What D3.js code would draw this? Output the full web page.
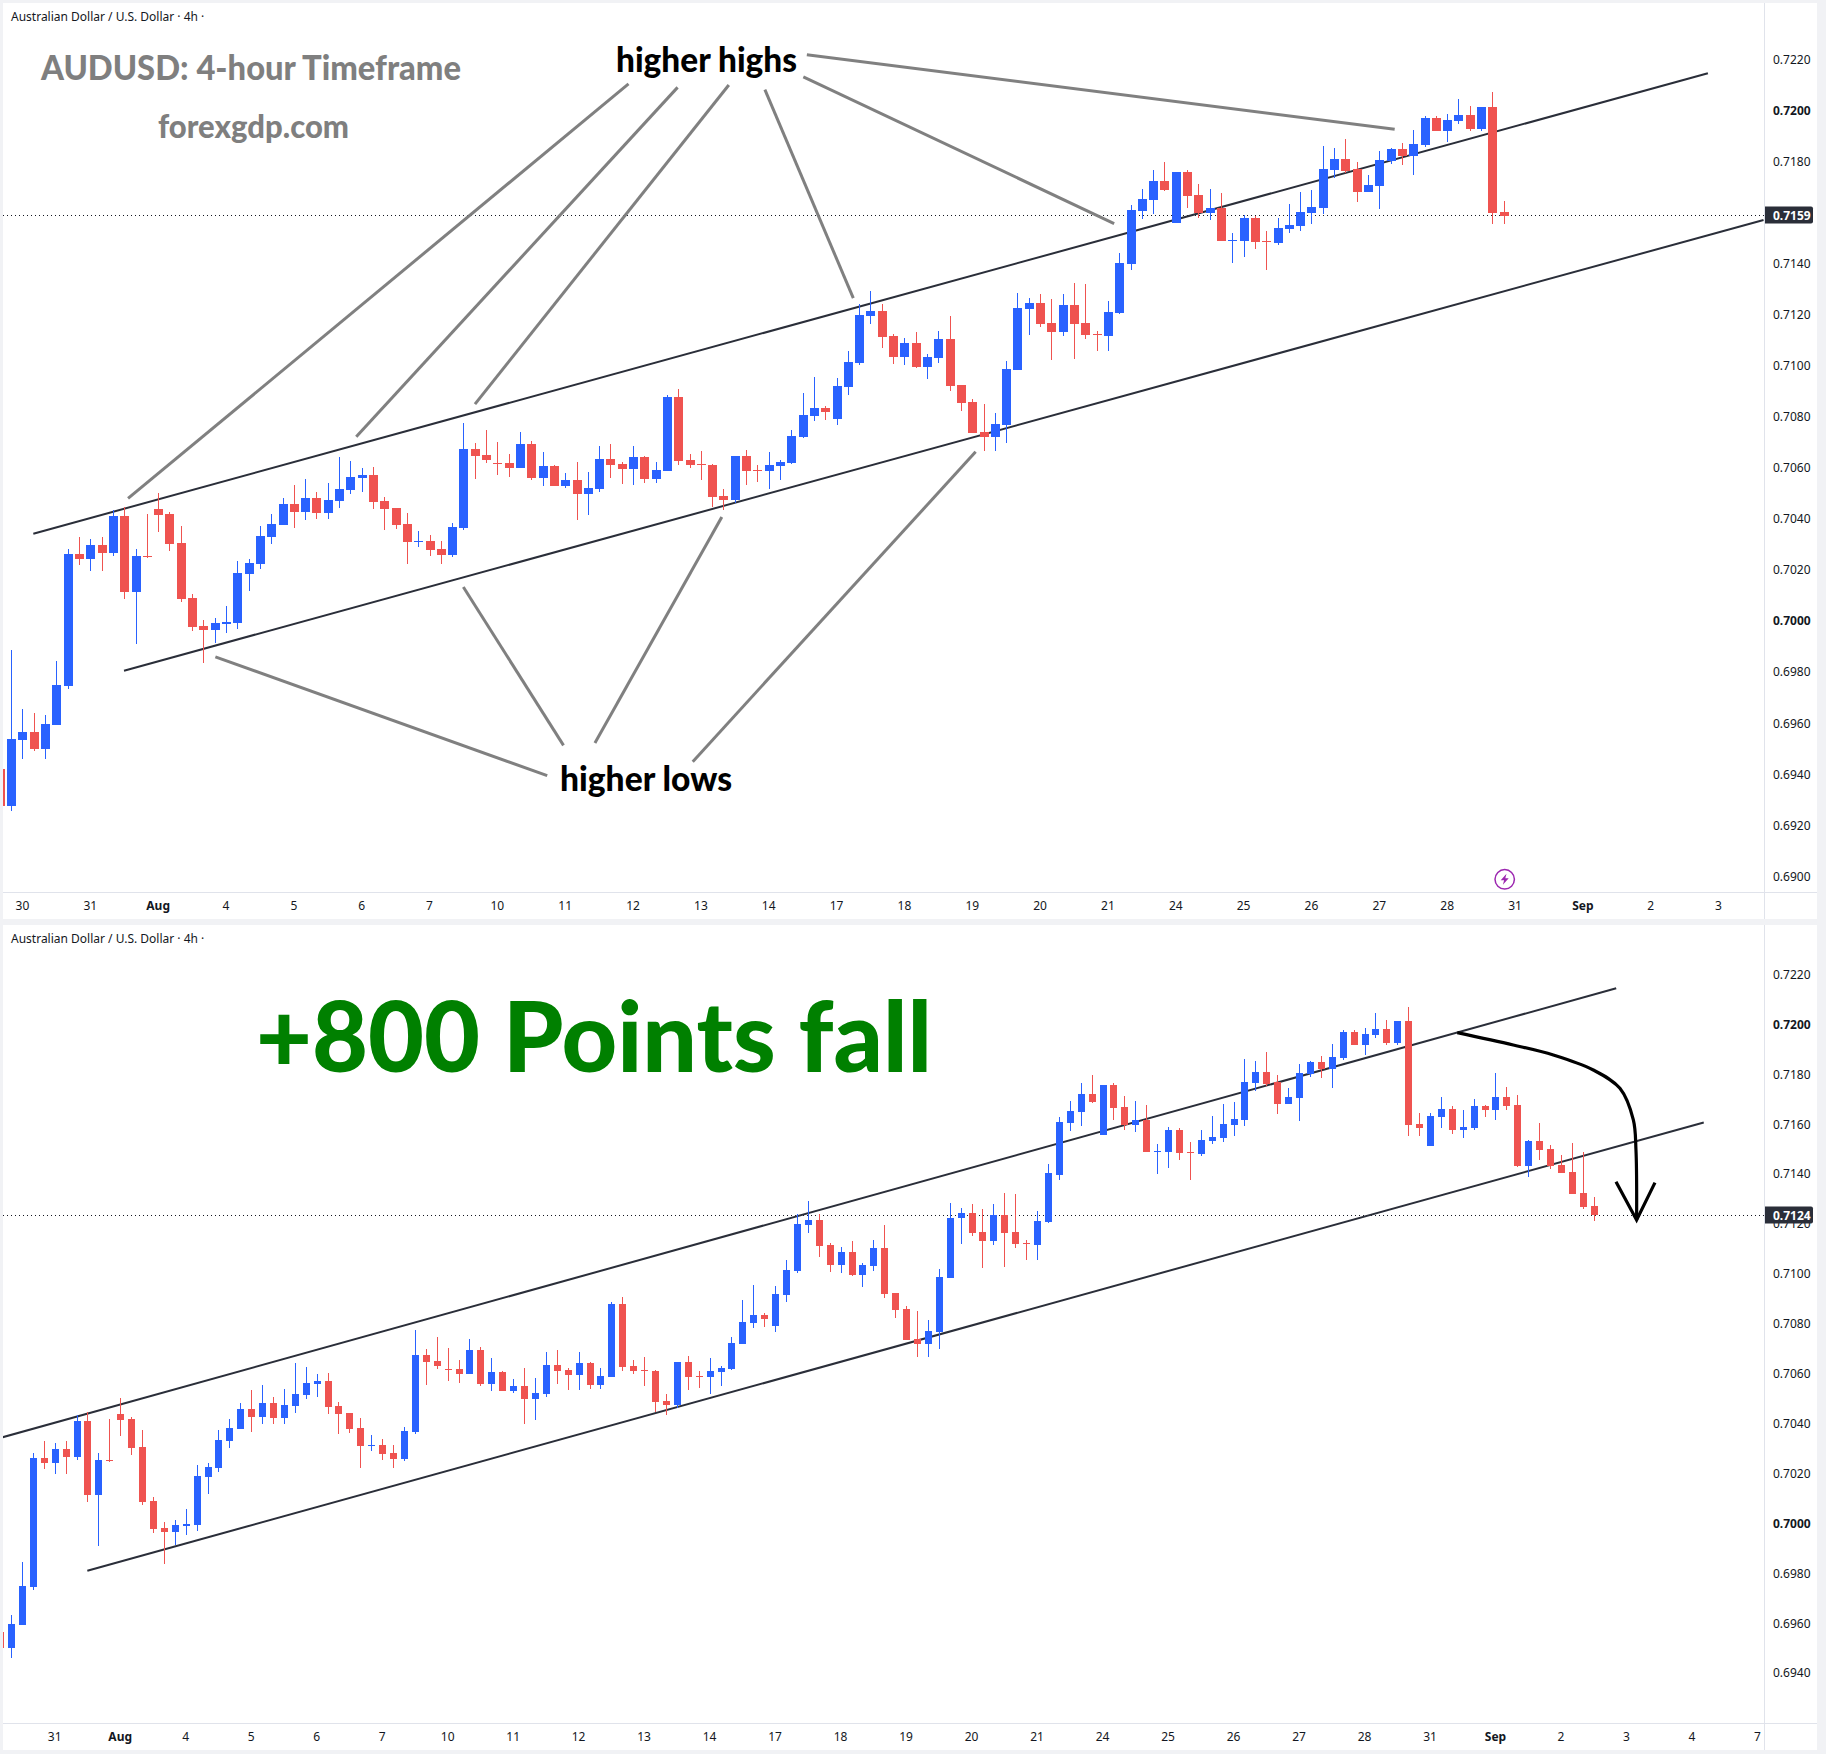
<!DOCTYPE html>
<html><head><meta charset="utf-8">
<script src="https://cdn.jsdelivr.net/npm/d3@7"></script>
<style>
html,body{margin:0;padding:0;background:#f1f2f5}
svg{display:block}
text{font-family:"Noto Sans",sans-serif}
text.big{font-family:Lato,"Noto Sans",sans-serif}
</style></head><body>
<svg id="c" width="1826" height="1754"></svg>
<script>
const symbolLabel = "Australian Dollar / U.S. Dollar · 4h ·";
const opens = [0.69423,0.69278,0.69536,0.69567,0.69501,0.69595,0.69748,0.70264,0.70245,0.70300,0.70268,0.70413,0.70116,0.70257,0.70441,0.70421,0.70308,0.70092,0.69983,0.69967,0.69990,0.69994,0.70186,0.70225,0.70331,0.70378,0.70460,0.70429,0.70484,0.70425,0.70472,0.70515,0.70562,0.70574,0.70472,0.70444,0.70382,0.70311,0.70315,0.70284,0.70260,0.70366,0.70675,0.70652,0.70621,0.70621,0.70601,0.70695,0.70562,0.70609,0.70531,0.70554,0.70499,0.70519,0.70636,0.70617,0.70597,0.70644,0.70558,0.70589,0.70879,0.70632,0.70617,0.70613,0.70491,0.70476,0.70648,0.70593,0.70589,0.70609,0.70621,0.70722,0.70805,0.70836,0.70793,0.70918,0.71012,0.71196,0.71216,0.71118,0.71036,0.71090,0.70996,0.71032,0.71106,0.70926,0.70859,0.70742,0.70722,0.70769,0.70985,0.71224,0.71247,0.71169,0.71134,0.71239,0.71169,0.71126,0.71118,0.71208,0.71399,0.71607,0.71650,0.71724,0.71560,0.71760,0.71670,0.71599,0.71619,0.71489,0.71489,0.71580,0.71489,0.71482,0.71536,0.71548,0.71599,0.71619,0.71768,0.71811,0.71771,0.71681,0.71705,0.71803,0.71850,0.71822,0.71865,0.71971,0.71920,0.71959,0.71983,0.71928,0.72014,0.71603,0.71515,0.71631,0.71663,0.71579,0.71587,0.71675,0.71659,0.71711,0.71679,0.71435,0.71535,0.71503,0.71439,0.71411,0.71326,0.71274];
const highs = [0.69423,0.69889,0.69658,0.69642,0.69634,0.69845,0.70284,0.70331,0.70323,0.70331,0.70437,0.70447,0.70284,0.70421,0.70503,0.70429,0.70374,0.70108,0.70006,0.70014,0.70061,0.70237,0.70245,0.70374,0.70421,0.70484,0.70535,0.70558,0.70507,0.70542,0.70644,0.70628,0.70601,0.70605,0.70488,0.70444,0.70425,0.70354,0.70339,0.70315,0.70386,0.70777,0.70699,0.70750,0.70703,0.70656,0.70742,0.70707,0.70664,0.70613,0.70582,0.70625,0.70585,0.70687,0.70695,0.70625,0.70687,0.70648,0.70625,0.70887,0.70910,0.70656,0.70668,0.70617,0.70519,0.70648,0.70672,0.70613,0.70664,0.70632,0.70750,0.70895,0.70957,0.70844,0.70953,0.71059,0.71243,0.71294,0.71243,0.71126,0.71110,0.71134,0.71047,0.71137,0.71196,0.70926,0.70871,0.70852,0.70816,0.71020,0.71286,0.71267,0.71282,0.71263,0.71282,0.71325,0.71321,0.71137,0.71255,0.71443,0.71630,0.71693,0.71768,0.71799,0.71760,0.71768,0.71713,0.71693,0.71677,0.71521,0.71591,0.71587,0.71529,0.71580,0.71634,0.71681,0.71689,0.71861,0.71854,0.71889,0.71799,0.71748,0.71842,0.71854,0.71873,0.71924,0.71979,0.71979,0.71987,0.72046,0.72018,0.72014,0.72073,0.71646,0.71647,0.71711,0.71675,0.71659,0.71703,0.71679,0.71807,0.71751,0.71719,0.71539,0.71607,0.71519,0.71479,0.71527,0.71491,0.71310];
const lows = [0.69278,0.69259,0.69462,0.69493,0.69462,0.69595,0.69736,0.70221,0.70198,0.70198,0.70257,0.70088,0.69912,0.70249,0.70351,0.70276,0.70077,0.69963,0.69838,0.69916,0.69955,0.69971,0.70120,0.70206,0.70304,0.70378,0.70366,0.70398,0.70401,0.70401,0.70444,0.70499,0.70507,0.70441,0.70358,0.70362,0.70225,0.70292,0.70257,0.70225,0.70253,0.70358,0.70558,0.70621,0.70574,0.70566,0.70601,0.70554,0.70531,0.70531,0.70523,0.70398,0.70417,0.70507,0.70562,0.70538,0.70535,0.70542,0.70542,0.70589,0.70613,0.70601,0.70554,0.70448,0.70437,0.70464,0.70535,0.70546,0.70519,0.70554,0.70617,0.70719,0.70785,0.70789,0.70769,0.70887,0.71004,0.71165,0.71071,0.71008,0.71004,0.70993,0.70950,0.71012,0.70903,0.70824,0.70738,0.70668,0.70668,0.70699,0.70985,0.71122,0.71153,0.71024,0.71118,0.71028,0.71106,0.71059,0.71059,0.71204,0.71376,0.71576,0.71595,0.71685,0.71560,0.71619,0.71580,0.71572,0.71489,0.71403,0.71427,0.71458,0.71376,0.71474,0.71521,0.71529,0.71556,0.71595,0.71736,0.71756,0.71642,0.71681,0.71615,0.71791,0.71787,0.71748,0.71858,0.71920,0.71877,0.71948,0.71920,0.71920,0.71556,0.71556,0.71515,0.71587,0.71563,0.71547,0.71579,0.71631,0.71619,0.71659,0.71431,0.71391,0.71459,0.71423,0.71407,0.71322,0.71262,0.71214];
const closes = [0.69278,0.69540,0.69567,0.69501,0.69599,0.69751,0.70264,0.70245,0.70300,0.70268,0.70413,0.70116,0.70257,0.70253,0.70417,0.70304,0.70088,0.69979,0.69967,0.69994,0.69998,0.70190,0.70229,0.70335,0.70382,0.70460,0.70429,0.70484,0.70425,0.70476,0.70519,0.70566,0.70574,0.70468,0.70441,0.70378,0.70311,0.70315,0.70280,0.70260,0.70370,0.70675,0.70648,0.70632,0.70617,0.70601,0.70695,0.70562,0.70609,0.70531,0.70554,0.70499,0.70523,0.70636,0.70613,0.70597,0.70644,0.70558,0.70593,0.70879,0.70628,0.70613,0.70613,0.70488,0.70476,0.70648,0.70589,0.70589,0.70613,0.70625,0.70726,0.70809,0.70836,0.70820,0.70922,0.71016,0.71200,0.71216,0.71114,0.71036,0.71090,0.70996,0.71036,0.71106,0.70922,0.70856,0.70738,0.70722,0.70773,0.70989,0.71227,0.71247,0.71165,0.71134,0.71239,0.71165,0.71122,0.71122,0.71212,0.71404,0.71611,0.71654,0.71724,0.71689,0.71760,0.71666,0.71599,0.71619,0.71489,0.71493,0.71580,0.71486,0.71486,0.71540,0.71552,0.71603,0.71623,0.71771,0.71811,0.71764,0.71681,0.71709,0.71807,0.71850,0.71822,0.71869,0.71971,0.71920,0.71963,0.71983,0.71928,0.72014,0.71599,0.71587,0.71635,0.71663,0.71579,0.71591,0.71675,0.71659,0.71711,0.71675,0.71435,0.71535,0.71499,0.71435,0.71407,0.71322,0.71270,0.71236];

const topDayLabels = ["30","31","Aug","4","5","6","7","10","11","12","13","14","17","18","19","20","21","24","25","26","27","28","31","Sep","2","3"];
const bottomDayLabels = ["31","Aug","4","5","6","7","10","11","12","13","14","17","18","19","20","21","24","25","26","27","28","31","Sep","2","3","4","7"];
const topPriceTicks = [0.722,0.72,0.718,0.714,0.712,0.71,0.708,0.706,0.704,0.702,0.70,0.698,0.696,0.694,0.692,0.69];
const bottomPriceTicks = [0.722,0.72,0.718,0.716,0.714,0.712,0.71,0.708,0.706,0.704,0.702,0.70,0.698,0.696,0.694];

// Drawn annotations, each anchored as [bar index, price]
const channelUpper = [[2.96,0.703433],[151.06,0.721465]];
const channelLowerTop = [[10.98,0.698068],[155.98,0.71572]];
const channelLowerBottom = [[10.99,0.698116],[159.08,0.716085]];
const calloutsHighs = [
 [[55.6,0.721051],[11.34,0.704814]],[[59.94,0.720914],[31.52,0.707231]],
 [[64.47,0.721005],[42.02,0.708508]],[[67.66,0.720823],[75.48,0.712659]],
 [[71.06,0.721325],[98.55,0.715578]],[[71.37,0.722191],[123.36,0.719272]]];
const calloutsLows = [
 [[48.41,0.693959],[19.06,0.698611]],[[49.85,0.695145],[40.99,0.701348]],
 [[52.63,0.695236],[63.85,0.704084]],[[61.28,0.694506],[86.3,0.706639]]];
const arrowCurve = [[136.5,0.719685],[141.63,0.719191],[145.3,0.71879],[148.96,0.718189],[151.4,0.717454],[152.63,0.716185],[152.87,0.714982],[152.93,0.712177]];
const arrowHead = [[151.04,0.713713],[152.93,0.712177],[154.61,0.713673]];

const UP="#2962FF", DOWN="#EF5350", AX="#E0E3EB", TXT="#131722", DARK="#2A2E39";
const svg = d3.select("#c");

function panel(cfg){
  const g = svg.append("g");
  const {left,top,right,outerRight,timeY,bottom} = cfg;
  g.append("rect").attr("x",left).attr("y",top).attr("width",outerRight-left).attr("height",bottom-top).attr("fill","#fff");
  const x = d3.scaleLinear().domain([8,134]).range(cfg.xRange);
  const y = d3.scaleLinear().domain([0.72,cfg.refPrice]).range([cfg.y72,cfg.yRef]);
  const id = "clip"+cfg.key;
  svg.append("defs").append("clipPath").attr("id",id).append("rect")
     .attr("x",left).attr("y",top).attr("width",right-left).attr("height",timeY-top);
  const plot = g.append("g").attr("clip-path",`url(#${id})`);
  const line = d3.line().x(d=>x(d[0])).y(d=>y(d[1]));

  const lastPrice = cfg.last;
  const lastY = Math.round(y(lastPrice))+0.5;
  plot.append("line").attr("x1",left).attr("x2",right).attr("y1",lastY).attr("y2",lastY)
    .attr("stroke",TXT).attr("stroke-width",1).attr("stroke-dasharray","1 3");

  plot.selectAll("path.ch").data(cfg.channels).join("path").attr("class","ch")
    .attr("d",line).attr("fill","none").attr("stroke",DARK).attr("stroke-width",2);

  const idx = d3.range(cfg.count);
  const bw = cfg.bodyW;
  const cg = plot.selectAll("g.c").data(idx).join("g").attr("class","c");
  cg.each(function(i){
    const s = d3.select(this), up = closes[i]>=opens[i], col = up?UP:DOWN;
    const cx = Math.round(x(i));
    s.append("rect").attr("x",cx).attr("width",1).attr("y",Math.round(y(highs[i])))
      .attr("height",Math.max(1,Math.round(y(lows[i]))-Math.round(y(highs[i])))).attr("fill",col);
    const t=Math.round(y(Math.max(opens[i],closes[i]))), b=Math.round(y(Math.min(opens[i],closes[i])));
    s.append("rect").attr("x",cx-(bw-1)/2).attr("width",bw).attr("y",t).attr("height",Math.max(1,b-t)).attr("fill",col);
  });

  g.append("line").attr("x1",right+0.5).attr("x2",right+0.5).attr("y1",top).attr("y2",bottom).attr("stroke",AX);
  g.append("line").attr("x1",left).attr("x2",outerRight).attr("y1",timeY+0.5).attr("y2",timeY+0.5).attr("stroke",AX);

  const ticks = cfg.days.map((d,i)=>({d,bar:cfg.firstBar+6*i}));
  g.selectAll("text.t").data(ticks).join("text").attr("class","t")
    .attr("x",d=>x(d.bar)).attr("y",timeY+18).attr("text-anchor","middle")
    .attr("font-size",12).attr("fill",TXT)
    .attr("font-weight",d=>/[A-Za-z]/.test(d.d)?700:400).text(d=>d.d);

  g.selectAll("text.p").data(cfg.priceTicks).join("text").attr("class","p")
    .attr("x",right+9).attr("y",d=>y(d)+4).attr("font-size",12).attr("fill",TXT)
    .attr("font-weight",d=>(Math.abs(d-0.72)<1e-9||Math.abs(d-0.70)<1e-9)?700:400)
    .text(d=>d3.format(".4f")(d));

  const tagY = Math.round(y(lastPrice));
  g.append("path").attr("d",`M${right+1},${tagY-8.5}H${right+47}a2,2 0 0 1 2,2V${tagY+6.5}a2,2 0 0 1 -2,2H${right+1}Z`).attr("fill",DARK);
  g.append("text").attr("x",right+9).attr("y",tagY+4.5).attr("font-size",12).attr("font-weight",700).attr("fill","#fff").text(d3.format(".4f")(lastPrice));

  g.append("text").attr("x",11).attr("y",top+18).attr("font-size",12).attr("fill",TXT).text(symbolLabel);
  return {g,x,y,line};
}

const A = panel({key:"a",left:3,top:3,right:1764,outerRight:1817,timeY:892,bottom:919,
  xRange:[90.3,1515],y72:110.7,refPrice:0.69,yRef:876.7,last:0.7159,count:134,bodyW:9,
  channels:[channelUpper,channelLowerTop],days:topDayLabels,firstBar:2,priceTicks:topPriceTicks});
const B = panel({key:"b",left:3,top:925,right:1764,outerRight:1817,timeY:1723,bottom:1750,
  xRange:[54.7,1430],y72:1024.8,refPrice:0.694,yRef:1673.4,last:closes[closes.length-1],count:150,bodyW:7,
  channels:[channelUpper,channelLowerBottom],days:bottomDayLabels,firstBar:8,priceTicks:bottomPriceTicks});

A.g.selectAll("path.co").data(calloutsHighs.concat(calloutsLows)).join("path").attr("class","co")
  .attr("d",A.line).attr("fill","none").attr("stroke","#808080").attr("stroke-width",3);

function label(t,x,y,size,fill,w){
  svg.append("text").attr("class","big").attr("x",x).attr("y",y).attr("font-size",size).attr("font-weight",900).attr("fill",fill)
    .attr("textLength",w).attr("lengthAdjust","spacingAndGlyphs").text(t);
}
label("AUDUSD: 4-hour Timeframe",41,80,35,"#7F7F7F",420);
label("forexgdp.com",158,138,32,"#7F7F7F",191);
label("higher highs",616,72,35,"#000",181);
label("higher lows",560,791,35,"#000",172);
label("+800 Points fall",256,1072,98,"#008000",676);

const ic = A.g.append("g").attr("transform","translate(1504.7,879.3)");
ic.append("circle").attr("r",9.7).attr("fill","#fff").attr("stroke","#9C27B0").attr("stroke-width",1.5);
ic.append("path").attr("d","M1.8,-5.5L-4,1H-0.6L-1.8,5.5L4,-1H0.6Z").attr("fill","#9C27B0");

B.g.append("path").attr("d",d3.line().x(d=>B.x(d[0])).y(d=>B.y(d[1])).curve(d3.curveCatmullRom)(arrowCurve))
  .attr("fill","none").attr("stroke","#000").attr("stroke-width",3.2);
B.g.append("path").attr("d",B.line(arrowHead)).attr("fill","none").attr("stroke","#000").attr("stroke-width",3.2);
</script></body></html>
